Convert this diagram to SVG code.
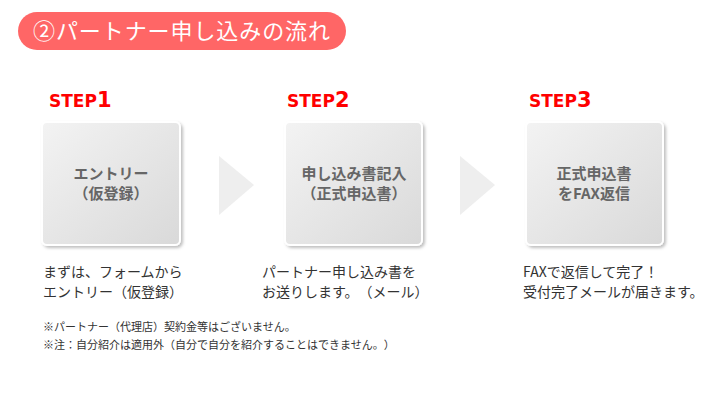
<svg xmlns="http://www.w3.org/2000/svg" width="710" height="400" viewBox="0 0 710 400">
<defs>
<linearGradient id="boxg" x1="0" y1="0" x2="1" y2="1">
<stop offset="0" stop-color="#f3f3f3"/>
<stop offset="1" stop-color="#d9d9d9"/>
</linearGradient>
<filter id="sh" x="-10%" y="-10%" width="125%" height="125%">
<feDropShadow dx="2" dy="2" stdDeviation="1.5" flood-color="#000" flood-opacity="0.25"/>
</filter>
</defs>
<style>
text{text-spacing-trim:space-all}
.box{fill:url(#boxg);stroke:#fff;stroke-width:2;filter:url(#sh)}
.bt{font-family:"Noto Sans CJK JP","DejaVu Sans",sans-serif;font-weight:bold;font-size:15px;fill:#666;text-anchor:middle}
.step{font-family:"DejaVu Sans",sans-serif;font-weight:bold;fill:#ff0000}
.desc{font-family:"Noto Sans CJK JP",sans-serif;font-size:14px;fill:#333}
.note{font-family:"Noto Sans CJK JP",sans-serif;font-size:11px;fill:#333}
.arr{fill:#eeeeee}
</style>
<rect width="710" height="400" fill="#fff"/>
<g id="title">
<rect x="18" y="12" width="328" height="38" rx="19" fill="#ff6666"/>
<text x="33" y="39" textLength="297" lengthAdjust="spacing" font-family="Noto Sans CJK JP,sans-serif" font-size="22" fill="#fff">②パートナー申し込みの流れ</text>
</g>
<g id="step1">
<text class="step" x="49" y="107"><tspan font-size="17">STEP</tspan><tspan font-size="21">1</tspan></text>
<rect class="box" x="42" y="122" width="138" height="123" rx="5"/>
<text class="bt" x="111" y="179">エントリー</text>
<text class="bt" x="111" y="199">（仮登録）</text>
<text class="desc" x="43" y="277">まずは、フォームから</text>
<text class="desc" x="43" y="297">エントリー（仮登録）</text>
</g>
<g id="step2">
<text class="step" x="287" y="107"><tspan font-size="17">STEP</tspan><tspan font-size="21">2</tspan></text>
<rect class="box" x="285" y="122" width="137" height="123" rx="5"/>
<text class="bt" x="354" y="179">申し込み書記入</text>
<text class="bt" x="354" y="199">（正式申込書）</text>
<text class="desc" x="262" y="277">パートナー申し込み書を</text>
<text class="desc" x="262" y="297">お送りします。（メール）</text>
</g>
<g id="step3">
<text class="step" x="529" y="107"><tspan font-size="17">STEP</tspan><tspan font-size="21">3</tspan></text>
<rect class="box" x="526" y="122" width="137" height="123" rx="5"/>
<text class="bt" x="594" y="179">正式申込書</text>
<text class="bt" x="594" y="199">をFAX返信</text>
<text class="desc" x="523" y="277">FAXで返信して完了！</text>
<text class="desc" x="523" y="297">受付完了メールが届きます。</text>
</g>
<g id="connectors">
<polygon class="arr" points="219,156 254,185 219,215"/>
<polygon class="arr" points="460,156 495,185 460,215"/>
</g>
<g id="notes">
<text class="note" x="43" y="331">※パートナー（代理店）契約金等はございません。</text>
<text class="note" x="43" y="349">※注：自分紹介は適用外（自分で自分を紹介することはできません。）</text>
</g>
</svg>
